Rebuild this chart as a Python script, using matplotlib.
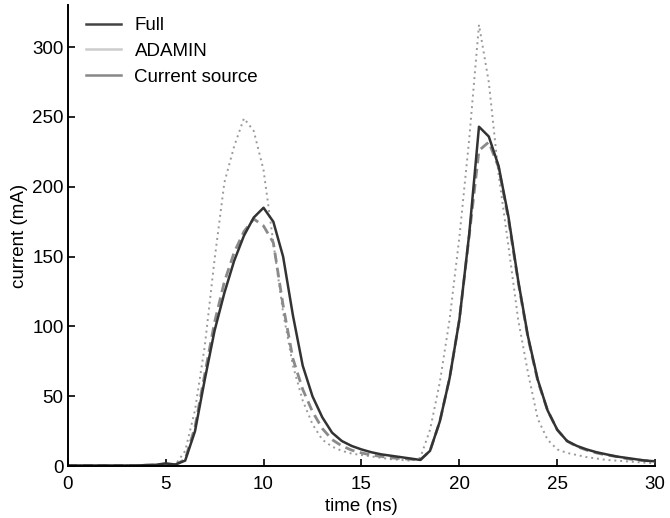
import numpy as np
import matplotlib
matplotlib.use("Agg")
import matplotlib.pyplot as plt
from matplotlib.lines import Line2D

plt.rcParams['font.family'] = ['Liberation Sans', 'DejaVu Sans']

# time axis (ns), 0.5 ns steps
time_ns = np.arange(0, 30.01, 0.5)

# current (mA)
full = [0.5, 0.5, 0.5, 0.5, 0.5, 0.5, 0.5, 0.5, 0.8, 1.0,
        2.0, 1.2, 4, 25, 62, 97, 124, 147, 165, 178,
        185, 175, 150, 108, 72, 50, 35, 24, 18, 14.5,
        12, 10, 8.5, 7.5, 6.5, 5.5, 4.5, 11, 32, 63,
        105, 166, 243, 236, 215, 179, 133, 93, 62, 40,
        26, 18, 14.5, 12, 10, 8.5, 7, 6, 5, 4, 3.5]

adamin = [0.5, 0.5, 0.5, 0.5, 0.5, 0.5, 0.5, 0.5, 0.5, 0.5,
          0.8, 1.0, 11, 40, 86, 148, 203, 229, 249, 240,
          212, 160, 110, 72, 47, 30, 19, 14, 11, 9,
          8, 7, 6, 5, 4.5, 4, 6, 26, 60, 105,
          164, 234, 316, 275, 209, 158, 105, 67, 34, 19,
          12, 9.5, 8, 6.5, 5.5, 4.5, 4, 3.5, 3, 2.5, 2]

current_source = [0.5, 0.5, 0.5, 0.5, 0.5, 0.5, 0.5, 0.5, 0.7, 0.9,
                  1.5, 1.0, 5, 28, 66, 103, 132, 153, 168, 177,
                  172, 160, 115, 77, 55, 39, 27, 19, 14.5, 11.5,
                  9.5, 8, 7, 6, 5.5, 5, 4.3, 11, 32, 63,
                  105, 165, 226, 232, 214, 177, 132, 92, 61, 40,
                  26, 18, 14, 11.5, 9.5, 8, 7, 5.5, 4.5, 4, 3.5]

labels = ["Full", "ADAMIN", "Current source"]

fig = plt.figure(figsize=(6.7, 5.18), dpi=100)
ax = fig.add_axes([0.101, 0.100, 0.877, 0.890])

ax.plot(time_ns, adamin, color="#9a9a9a", linestyle=(0, (1, 2)), linewidth=1.4)
ax.plot(time_ns, current_source, color="#8a8a8a", linestyle=(0, (3.5, 2)), linewidth=2.0)
ax.plot(time_ns, full, color="#333333", linestyle="-", linewidth=1.8)

ax.set_xlim(0, 30)
ax.set_ylim(0, 330)
ax.set_xticks(range(0, 31, 5))
ax.set_yticks(range(0, 301, 50))
ax.tick_params(direction="in", length=5, width=1.2, labelsize=13.5)
ax.tick_params(axis="x", pad=7)
ax.tick_params(axis="y", pad=3)
for side in ["top", "right"]:
    ax.spines[side].set_visible(False)
for side in ["left", "bottom"]:
    ax.spines[side].set_linewidth(1.4)

ax.set_xlabel("time (ns)", fontsize=13.5, labelpad=4)
ax.set_ylabel("current (mA)", fontsize=13.5, labelpad=3)

# legend shows plain solid swatches, as in the reference
handles = [Line2D([], [], color="#444444", linewidth=1.8),
           Line2D([], [], color="#cccccc", linewidth=1.8),
           Line2D([], [], color="#888888", linewidth=1.8)]
ax.legend(handles, labels, loc="upper left", bbox_to_anchor=(0.01, 1.0),
          frameon=False, fontsize=13.5, handlelength=1.9, handletextpad=0.7,
          labelspacing=0.45, borderaxespad=0.25)

plt.savefig("out.png", dpi=100)
